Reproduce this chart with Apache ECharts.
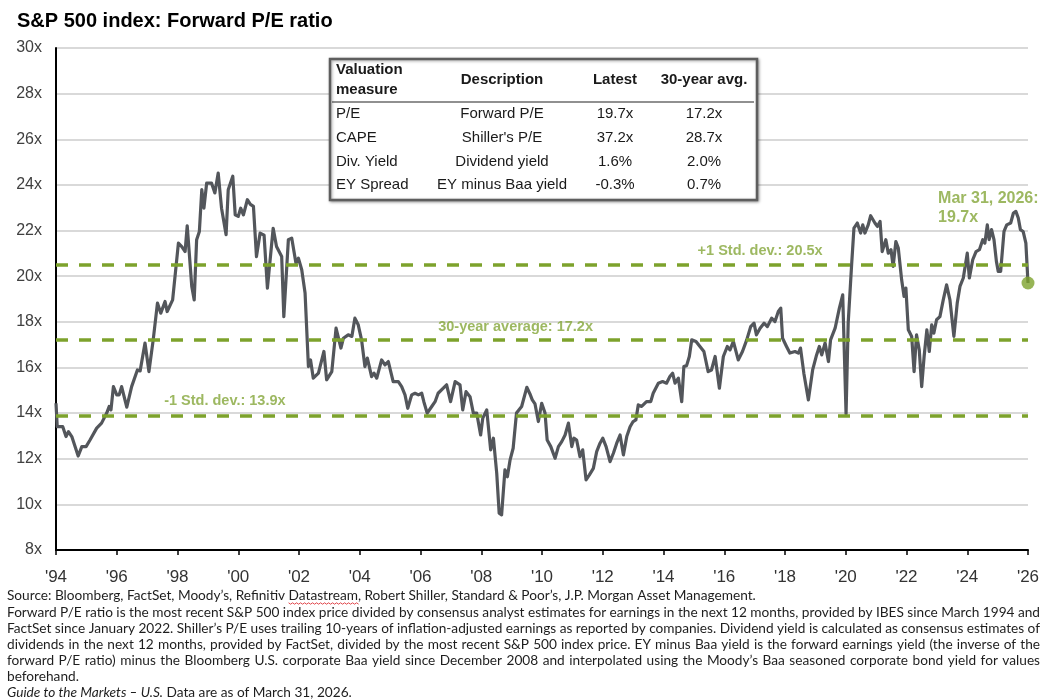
<!DOCTYPE html>
<html>
<head>
<meta charset="utf-8">
<title>S&P 500 index: Forward P/E ratio</title>
<script src="https://cdn.jsdelivr.net/npm/echarts@6/dist/echarts.min.js"></script>
<style>
  html, body { margin: 0; padding: 0; background: #fff; }
  #chart { width: 1043px; height: 699px; }
</style>
</head>
<body>
<div id="chart"></div>
<script>
// forward P/E (year as decimal)
var years = [
  1994.00, 1994.04, 1994.22, 1994.33, 1994.41, 1994.52, 1994.73, 1994.85, 1994.99,
  1995.12, 1995.34, 1995.50, 1995.67, 1995.75, 1995.81, 1995.89,
  1996.00, 1996.08, 1996.16, 1996.33, 1996.49, 1996.68, 1996.77, 1996.93,
  1997.06, 1997.20, 1997.34, 1997.45, 1997.59, 1997.66, 1997.84,
  1998.03, 1998.14, 1998.25, 1998.32, 1998.47, 1998.55, 1998.63, 1998.72, 1998.80, 1998.87, 1998.96,
  1999.12, 1999.23, 1999.34, 1999.45, 1999.60, 1999.67, 1999.82, 1999.90,
  2000.00, 2000.08, 2000.17, 2000.30, 2000.40, 2000.50, 2000.60, 2000.72, 2000.85, 2000.96,
  2001.15, 2001.26, 2001.43, 2001.50, 2001.65, 2001.76, 2001.90, 2001.98,
  2002.09, 2002.20, 2002.31, 2002.38, 2002.47, 2002.64, 2002.82, 2002.91,
  2003.08, 2003.22, 2003.38, 2003.46, 2003.62, 2003.74, 2003.84, 2003.95,
  2004.06, 2004.17, 2004.25, 2004.39, 2004.47, 2004.56, 2004.72, 2004.83, 2004.94,
  2005.10, 2005.27, 2005.38, 2005.49, 2005.58, 2005.71, 2005.82, 2005.93,
  2006.04, 2006.11, 2006.22, 2006.37, 2006.48, 2006.58, 2006.75, 2006.86, 2006.99,
  2007.14, 2007.30, 2007.39, 2007.50, 2007.63, 2007.74, 2007.85, 2007.98,
  2008.05, 2008.18, 2008.31, 2008.40, 2008.51, 2008.59, 2008.67, 2008.78, 2008.86, 2008.95,
  2009.05, 2009.16, 2009.33, 2009.50, 2009.60, 2009.68, 2009.77, 2009.88, 2009.99,
  2010.10, 2010.17, 2010.29, 2010.43, 2010.54, 2010.65, 2010.76, 2010.87, 2010.98,
  2011.05, 2011.14, 2011.25, 2011.34, 2011.45, 2011.56, 2011.69, 2011.80, 2011.91,
  2012.00, 2012.11, 2012.24, 2012.35, 2012.46, 2012.57, 2012.68, 2012.79, 2012.90,
  2013.00, 2013.09, 2013.17, 2013.28, 2013.44, 2013.58, 2013.66, 2013.83, 2013.97,
  2014.10, 2014.21, 2014.30, 2014.38, 2014.49, 2014.60, 2014.67, 2014.76, 2014.85, 2014.93,
  2015.07, 2015.20, 2015.33, 2015.47, 2015.58, 2015.70, 2015.84, 2015.97,
  2016.10, 2016.19, 2016.30, 2016.46, 2016.60, 2016.74, 2016.87, 2016.98,
  2017.06, 2017.18, 2017.31, 2017.42, 2017.56, 2017.67, 2017.78, 2017.86, 2017.92,
  2018.05, 2018.16, 2018.33, 2018.44, 2018.51, 2018.62, 2018.77, 2018.91,
  2019.04, 2019.13, 2019.21, 2019.32, 2019.43, 2019.50, 2019.65, 2019.79, 2019.90,
  2020.01, 2020.08, 2020.19, 2020.27, 2020.38, 2020.49, 2020.56, 2020.63, 2020.74, 2020.82, 2020.96,
  2021.04, 2021.13, 2021.20, 2021.32, 2021.40, 2021.49, 2021.56, 2021.65, 2021.73, 2021.84, 2021.92, 2021.98,
  2022.06, 2022.17, 2022.25, 2022.33, 2022.42, 2022.50, 2022.58, 2022.67, 2022.75, 2022.83, 2022.90, 2022.99,
  2023.10, 2023.21, 2023.32, 2023.43, 2023.56, 2023.67, 2023.76, 2023.87,
  2024.00, 2024.07, 2024.18, 2024.29, 2024.40, 2024.51, 2024.58, 2024.66, 2024.72, 2024.80, 2024.88, 2024.96,
  2025.02, 2025.10, 2025.21, 2025.30, 2025.43, 2025.52, 2025.60, 2025.68, 2025.75, 2025.84, 2025.93,
  2026.00
];
var peValues = [
  14.43, 13.41, 13.41, 12.97, 13.19, 12.97, 12.12, 12.53, 12.53,
  12.82, 13.34, 13.56, 14.00, 14.29, 14.14, 15.16,
  14.80, 14.80, 15.16, 14.26, 15.16, 15.89, 15.85, 17.07,
  15.82, 17.21, 18.82, 18.38, 18.89, 18.45, 18.96,
  21.45, 21.30, 21.08, 22.21, 19.55, 18.96, 21.60, 21.96, 23.79, 22.98, 24.08,
  24.08, 23.65, 24.52, 22.98, 21.82, 23.79, 24.38, 22.69,
  22.62, 22.98, 22.69, 23.35, 23.15, 23.06, 20.86, 21.89, 21.80, 19.48,
  22.10, 21.30, 20.86, 18.23, 21.60, 21.67, 20.57, 20.79,
  20.28, 19.26, 16.04, 16.33, 15.53, 15.75, 16.70, 15.46,
  15.82, 17.72, 16.85, 17.28, 17.43, 17.36, 18.16, 17.87,
  17.21, 16.04, 16.41, 15.60, 15.75, 15.53, 16.33, 16.11, 16.26,
  15.38, 15.38, 15.16, 14.80, 14.21, 14.80, 14.87, 14.80,
  14.87, 14.50, 14.00, 14.29, 14.50, 14.87, 15.09, 15.24, 14.50,
  15.38, 15.24, 14.14, 14.94, 14.72, 14.00, 14.00, 13.04,
  13.78, 14.14, 12.39, 12.90, 11.36, 9.61, 9.54, 11.51, 11.21, 11.95,
  12.46, 14.00, 14.29, 15.13, 14.85, 14.58, 14.40, 13.63, 14.43,
  14.00, 12.82, 12.53, 12.02, 12.53, 12.75, 13.04, 13.56, 12.53,
  12.90, 12.82, 12.09, 12.39, 11.07, 11.29, 11.58, 12.31, 12.68,
  12.90, 12.53, 11.87, 12.24, 12.68, 13.04, 12.17, 12.97, 13.40,
  13.63, 13.70, 14.36, 14.29, 14.50, 14.50, 14.87, 15.31, 15.38,
  15.31, 15.60, 15.75, 15.31, 15.53, 14.50, 16.04, 16.08, 16.48, 17.21,
  17.14, 16.92, 16.70, 15.82, 15.89, 16.48, 15.09, 16.48,
  16.92, 16.77, 17.14, 16.33, 16.70, 17.21, 17.79, 17.94,
  17.43, 17.72, 17.94, 17.79, 18.16, 18.01, 18.45, 18.60, 17.28,
  16.92, 16.63, 16.70, 16.63, 16.85, 15.75, 14.58, 15.89,
  16.55, 16.92, 16.55, 17.07, 16.26, 17.21, 17.72, 18.60, 19.18,
  13.96, 17.94, 20.43, 22.11, 22.33, 21.89, 22.25, 21.89, 22.25, 22.65, 22.33,
  22.18, 22.40, 21.08, 21.60, 21.01, 21.16, 20.43, 21.52, 21.23, 19.84, 19.11, 19.48,
  17.65, 17.36, 15.82, 17.43, 16.77, 15.16, 16.48, 17.65, 16.70, 17.87, 17.50, 18.09,
  18.23, 18.96, 19.62, 18.96, 17.36, 18.82, 19.55, 19.92,
  21.01, 19.92, 20.72, 21.08, 21.16, 21.60, 21.45, 22.25, 21.60, 22.04, 21.60, 20.65,
  20.21, 20.21, 21.96, 22.25, 22.33, 22.77, 22.84, 22.55, 22.04, 21.96, 21.45,
  19.70
];

// reference lines: -1 std. dev., 30-year average, +1 std. dev.
var refValues = [13.9, 17.2, 20.5];
var refLabels = ['-1 Std. dev.: 13.9x', '30-year average: 17.2x', '+1 Std. dev.: 20.5x'];
var latestLabel = 'Mar 31, 2026:\n19.7x';

var yTicks = [8, 10, 12, 14, 16, 18, 20, 22, 24, 26, 28, 30];

// valuation table
var tableHeader = ['Valuation\nmeasure', 'Description', 'Latest', '30-year avg.'];
var tableMeasure = ['P/E', 'CAPE', 'Div. Yield', 'EY Spread'];
var tableDescription = ['Forward P/E', "Shiller's P/E", 'Dividend yield', 'EY minus Baa yield'];
var tableLatest = ['19.7x', '37.2x', '1.6%', '-0.3%'];
var tableAvg = ['17.2x', '28.7x', '2.0%', '0.7%'];

var noteLines = [
  'Source: Bloomberg, FactSet, Moody\u2019s, Refinitiv Datastream, Robert Shiller, Standard & Poor\u2019s, J.P. Morgan Asset Management.',
  'Forward P/E ratio is the most recent S&P 500 index price divided by consensus analyst estimates for earnings in the next 12 months, provided by IBES since March 1994 and',
  'FactSet since January 2022. Shiller\u2019s P/E uses trailing 10-years of inflation-adjusted earnings as reported by companies. Dividend yield is calculated as consensus estimates of',
  'dividends in the next 12 months, provided by FactSet, divided by the most recent S&P 500 index price. EY minus Baa yield is the forward earnings yield (the inverse of the',
  'forward P/E ratio) minus the Bloomberg U.S. corporate Baa yield since December 2008 and interpolated using the Moody\u2019s Baa seasoned corporate bond yield for values',
  'beforehand.'
];
var noteGuide = 'Guide to the Markets \u2013 U.S.';
var noteDate = ' Data are as of March 31, 2026.';

var FONT = '"Liberation Sans", Arial, sans-serif';
var GREEN = '#7da22c';
var GREEN_TXT = '#84a63a';
var LINE = '#53565b';

var chart = echarts.init(document.getElementById('chart'));

// ---- table graphics ----
var tbl = { x: 330, y: 59, w: 427, h: 141 };
var colX = [336, 502, 615, 704];
var rowY = [114, 138, 162, 185];
var tableEls = [{
  type: 'rect', shape: { x: tbl.x, y: tbl.y, width: tbl.w, height: tbl.h },
  style: { fill: '#fff', stroke: '#5e5e5e', lineWidth: 2.5, shadowBlur: 3, shadowColor: 'rgba(0,0,0,0.35)', shadowOffsetX: 1, shadowOffsetY: 1 },
  z: 10
}, {
  type: 'line', shape: { x1: 332, y1: 102, x2: 754, y2: 102 },
  style: { stroke: '#222', lineWidth: 1.2 }, z: 11
}];
tableHeader.forEach(function (h, i) {
  tableEls.push({
    type: 'text', x: colX[i], y: 80, z: 11,
    style: { text: h, fontFamily: FONT, fontSize: 15, fontWeight: 'bold', fill: '#1a1a1a',
      align: i === 0 ? 'left' : 'center', verticalAlign: 'middle', lineHeight: 20 }
  });
});
[tableMeasure, tableDescription, tableLatest, tableAvg].forEach(function (col, c) {
  col.forEach(function (t, r) {
    tableEls.push({
      type: 'text', x: colX[c], y: rowY[r], z: 11,
      style: { text: t, fontFamily: FONT, fontSize: 15, fill: '#1a1a1a',
        align: c === 0 ? 'left' : 'center', verticalAlign: 'middle' }
    });
  });
});

// ---- footnotes (justified like the source) ----
var noteFamily = 'Lato';
var ctx = document.createElement('canvas').getContext('2d');
function measure(str, size, style) {
  ctx.font = (style || 'normal') + ' ' + size + 'px ' + noteFamily;
  return ctx.measureText(str).width;
}
var noteLeft = 7, noteRight = 1040, noteTop = 596, noteStep = 16.1;
var noteSize = 13 * 750 / measure(noteLines[0], 13);
var justify = [false, true, true, true, true, false];
var noteEls = [];
function noteText(str, x, y) {
  return { type: 'text', x: x, y: y, style: { text: str, fontFamily: noteFamily, fontSize: noteSize, fill: '#1e1e1e', verticalAlign: 'middle' } };
}
noteLines.forEach(function (line, i) {
  var y = noteTop + i * noteStep;
  if (!justify[i]) { noteEls.push(noteText(line, noteLeft, y)); return; }
  var words = line.split(' ');
  var total = 0;
  words.forEach(function (w) { total += measure(w, noteSize); });
  var gap = (noteRight - noteLeft - total) / (words.length - 1);
  var x = noteLeft;
  words.forEach(function (w) {
    noteEls.push(noteText(w, x, y));
    x += measure(w, noteSize) + gap;
  });
});
noteEls.push({
  type: 'text', x: noteLeft, y: noteTop + 6 * noteStep,
  style: {
    text: '{i|' + noteGuide + '}' + noteDate, fontFamily: noteFamily, fontSize: noteSize, fill: '#1e1e1e', verticalAlign: 'middle',
    rich: { i: { fontStyle: 'italic', fontFamily: noteFamily, fontSize: noteSize, fill: '#1e1e1e' } }
  }
});
// spell-check squiggle under "Datastream" as in the source image
var sqX = noteLeft + measure('Source: Bloomberg, FactSet, Moody\u2019s, Refinitiv ', noteSize);
var sqW = measure('Datastream', noteSize);
var sqPts = [];
for (var k = 0; k <= Math.round(sqW / 2); k++) {
  sqPts.push([sqX + k * 2, noteTop + 7 + (k % 2 ? 1.2 : -0.2)]);
}
noteEls.push({ type: 'polyline', shape: { points: sqPts }, style: { stroke: '#e2474b', lineWidth: 1, fill: null } });

var seriesData = years.map(function (y, i) { return [y, peValues[i]]; });
var last = seriesData[seriesData.length - 1];

chart.setOption({
  animation: false,
  backgroundColor: '#fff',
  textStyle: { fontFamily: FONT },
  title: {
    text: 'S&P 500 index: Forward P/E ratio', left: 12, top: 6,
    textStyle: { fontFamily: FONT, fontSize: 20, fontWeight: 'bold', color: '#000' }
  },
  grid: { left: 56, right: 15, top: 48, bottom: 149, outerBoundsMode: 'none' },
  xAxis: {
    type: 'value', min: 1994, max: 2026, interval: 2,
    axisLine: { show: true, onZero: false, lineStyle: { color: '#000', width: 2 } },
    axisTick: { show: true, length: 5, lineStyle: { color: '#000', width: 1.5 } },
    axisLabel: {
      margin: 19, fontSize: 17, color: '#333', fontFamily: FONT,
      showMinLabel: true, showMaxLabel: true,
      formatter: function (v) { return "'" + String(v).slice(2); }
    },
    splitLine: { show: false }
  },
  yAxis: {
    type: 'value', min: yTicks[0], max: yTicks[yTicks.length - 1], interval: 2,
    axisLine: { show: true, lineStyle: { color: '#000', width: 2 } },
    axisTick: { show: false },
    axisLabel: { formatter: '{value}x', fontSize: 16, margin: 14, color: '#404040', fontFamily: FONT },
    splitLine: { show: true, lineStyle: { color: '#d9d9d9', width: 2 } }
  },
  series: [{
    type: 'line', data: [], z: 1, silent: true,
    markLine: {
      symbol: 'none', silent: true, animation: false,
      lineStyle: { type: [12, 11], color: GREEN, width: 3.5 },
      label: { show: false },
      data: refValues.map(function (v) { return { yAxis: v }; })
    }
  }, {
    type: 'line', data: seriesData, z: 3, showSymbol: false, symbol: 'none',
    lineStyle: { color: LINE, width: 3.2, join: 'round' }
  }, {
    type: 'scatter', z: 4, data: [last], symbolSize: 13,
    itemStyle: { color: GREEN }
  }, {
    type: 'scatter', z: 5, symbolSize: 0, silent: true,
    label: { show: true, position: 'inside', color: GREEN_TXT, fontFamily: FONT, fontSize: 14.5, fontWeight: 'bold',
      formatter: function (p) { return p.data.name; } },
    data: [
      { name: refLabels[0], value: [1999.56, 14.54] },
      { name: refLabels[1], value: [2009.13, 17.78] },
      { name: refLabels[2], value: [2017.18, 21.11] },
      { name: latestLabel, value: [2023.04, 23.0], label: { align: 'left', fontSize: 16, lineHeight: 19 } }
    ]
  }],
  graphic: tableEls.concat(noteEls)
});
</script>
</body>
</html>
